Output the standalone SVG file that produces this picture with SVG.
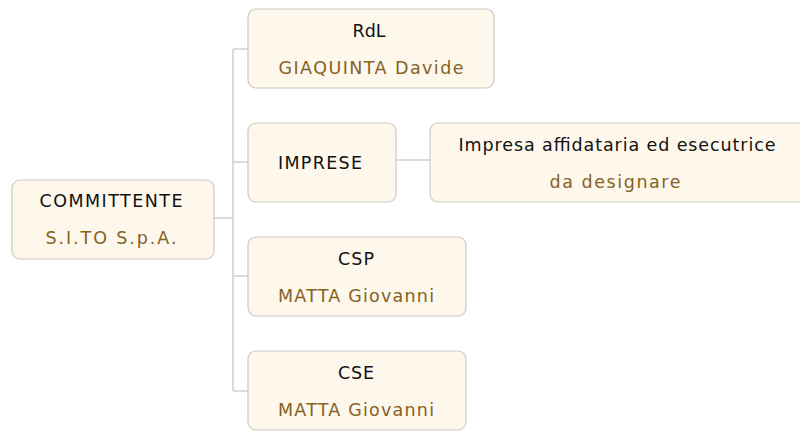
<svg xmlns="http://www.w3.org/2000/svg" width="800" height="431" viewBox="0 0 800 431">
<style>
.box{fill:#fdf7ec;stroke:#cdcac4;stroke-width:1.2}
.t{font-family:"DejaVu Sans",Verdana,sans-serif;font-size:17.5px;fill:#111;text-anchor:middle}
.s{font-family:"DejaVu Sans",Verdana,sans-serif;font-size:17.5px;fill:#86621f;text-anchor:middle}
.c{fill:none;stroke:#cfcfcf;stroke-width:1.5}
</style>
<rect width="800" height="431" fill="#fff"/>
<g id="connectors">
<path class="c" d="M214 218H233M233 49V391M233 49H248M233 162H248M233 276H248M233 391H248M396 160H430"/>
</g>
<g id="committente">
<rect class="box" x="12" y="180" width="202" height="79" rx="8"/>
<text class="t" x="111" y="207" textLength="143" lengthAdjust="spacing">COMMITTENTE</text>
<text class="s" x="111" y="244" textLength="131" lengthAdjust="spacing">S.I.TO S.p.A.</text>
</g>
<g id="rdl">
<rect class="box" x="248" y="9" width="246" height="79" rx="8"/>
<text class="t" x="369" y="37">RdL</text>
<text class="s" x="371" y="74" textLength="185" lengthAdjust="spacing">GIAQUINTA Davide</text>
</g>
<g id="imprese">
<rect class="box" x="248" y="123" width="148" height="79" rx="8"/>
<text class="t" x="320" y="169" textLength="84" lengthAdjust="spacing">IMPRESE</text>
</g>
<g id="impresa">
<rect class="box" x="430" y="123" width="380" height="79" rx="8"/>
<text class="t" x="617" y="151" textLength="317" lengthAdjust="spacing">Impresa affidataria ed esecutrice</text>
<text class="s" x="615" y="188" textLength="131" lengthAdjust="spacing">da designare</text>
</g>
<g id="csp">
<rect class="box" x="248" y="237" width="218" height="79" rx="8"/>
<text class="t" x="356" y="265" textLength="36" lengthAdjust="spacing">CSP</text>
<text class="s" x="356" y="302" textLength="156" lengthAdjust="spacing">MATTA Giovanni</text>
</g>
<g id="cse">
<rect class="box" x="248" y="351" width="218" height="79" rx="8"/>
<text class="t" x="356" y="379" textLength="36" lengthAdjust="spacing">CSE</text>
<text class="s" x="356" y="416" textLength="156" lengthAdjust="spacing">MATTA Giovanni</text>
</g>
</svg>
